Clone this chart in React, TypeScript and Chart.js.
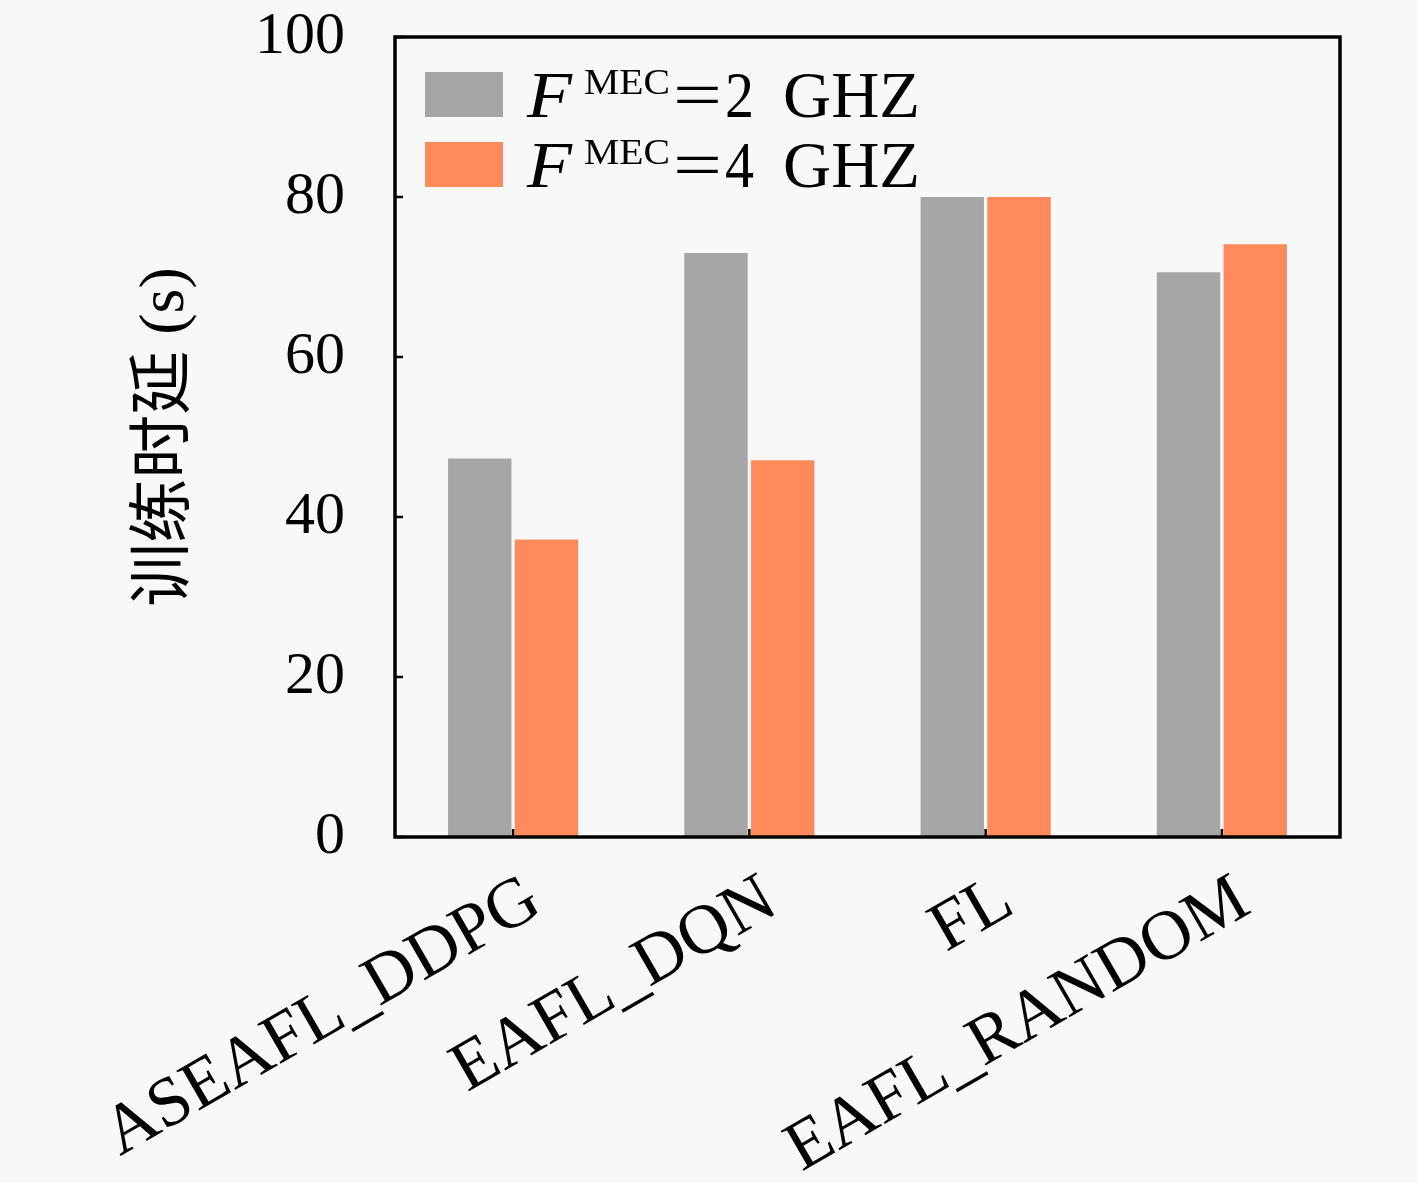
import React, { useEffect, useRef } from "react";
import { Chart, registerables } from "chart.js";

Chart.register(...registerables);

const categories = ["ASEAFL_DDPG", "EAFL_DQN", "FL", "EAFL_RANDOM"];
const series2GHz = [47.3, 73.0, 80.0, 70.6];
const series4GHz = [37.2, 47.1, 80.0, 74.1];
const seriesValueText = ["2", "4"];
const seriesUnit = "GHZ";
const yTickStep = 20;
const yMin = 0;
const yMax = 100;
const yTitle = "训练时延 (s)";

const GRAY = "#a6a6a6";
const ORANGE = "#ff8a5b";
const BG = "#f8f8f8";
const SERIF = "'Liberation Serif', 'Noto Sans CJK SC', serif";

function drawFit(ctx: CanvasRenderingContext2D, text: string, x0: number, x1: number, y: number) {
  const w = ctx.measureText(text).width;
  const s = (x1 - x0) / w;
  ctx.save();
  ctx.translate(x0, y);
  ctx.scale(s, 1);
  ctx.fillText(text, 0, 0);
  ctx.restore();
}

const framePlugin = {
  id: "frame",
  beforeDraw(chart: any) {
    const ctx = chart.ctx;
    ctx.save();
    ctx.fillStyle = BG;
    ctx.fillRect(0, 0, chart.width, chart.height);
    ctx.restore();
  },
  afterDraw(chart: any) {
    const ctx: CanvasRenderingContext2D = chart.ctx;
    const { left, right, top, bottom } = chart.chartArea;
    ctx.save();
    ctx.strokeStyle = "#000";
    ctx.lineWidth = 3.5;
    ctx.strokeRect(left, top, right - left, bottom - top);
    // inward ticks
    ctx.lineWidth = 2.5;
    const ys = chart.scales.y;
    ys.ticks.forEach((t: any) => {
      const py = ys.getPixelForValue(t.value);
      ctx.beginPath();
      ctx.moveTo(left, py);
      ctx.lineTo(left + 8, py);
      ctx.stroke();
    });
    const xs = chart.scales.x;
    categories.forEach((_, i) => {
      const px = xs.getPixelForValue(i);
      ctx.beginPath();
      ctx.moveTo(px, bottom);
      ctx.lineTo(px, bottom - 8);
      ctx.stroke();
    });

    // legend
    const colors = [GRAY, ORANGE];
    const rowTops = [72, 142];
    rowTops.forEach((ty, i) => {
      ctx.fillStyle = colors[i];
      ctx.fillRect(425, ty, 78, 45);
      const base = ty + 45;
      ctx.fillStyle = "#000";
      ctx.textBaseline = "alphabetic";
      ctx.textAlign = "left";
      ctx.font = `italic 66px ${SERIF}`;
      drawFit(ctx, "F", 527, 572, base);
      ctx.font = `36px ${SERIF}`;
      drawFit(ctx, "MEC", 584, 670, base - 23);
      ctx.font = `66px ${SERIF}`;
      drawFit(ctx, "=", 673, 722, base);
      drawFit(ctx, seriesValueText[i], 725, 754, base);
      drawFit(ctx, seriesUnit, 783, 920, base);
    });
    ctx.restore();
  },
};

export default function App() {
  const ref = useRef<HTMLCanvasElement>(null);
  useEffect(() => {
    document.body.style.margin = "0";
    document.body.style.background = BG;
    const chart = new Chart(ref.current!, {
      type: "bar",
      data: {
        labels: categories,
        datasets: [
          {
            label: "F MEC=2 GHZ",
            data: series2GHz,
            backgroundColor: GRAY,
            borderWidth: 0,
            categoryPercentage: 0.565,
            barPercentage: 0.95,
          },
          {
            label: "F MEC=4 GHZ",
            data: series4GHz,
            backgroundColor: ORANGE,
            borderWidth: 0,
            categoryPercentage: 0.565,
            barPercentage: 0.95,
          },
        ],
      },
      options: {
        animation: false,
        responsive: false,
        devicePixelRatio: 1,
        layout: { padding: { top: 37, right: 77, left: 0, bottom: 0 } },
        plugins: {
          legend: { display: false },
          tooltip: { enabled: false },
        },
        scales: {
          x: {
            grid: { display: false, drawTicks: false },
            border: { display: false },
            ticks: {
              color: "#000",
              font: { family: SERIF, size: 70 },
              minRotation: 30,
              maxRotation: 30,
              padding: 22,
              labelOffset: 22,
              autoSkip: false,
            },
            afterFit: (s: any) => {
              s.height = 346;
              s.paddingLeft = 0;
              s.paddingRight = 0;
            },
          },
          y: {
            min: yMin,
            max: yMax,
            grid: { display: false, drawTicks: false },
            border: { display: false },
            ticks: {
              stepSize: yTickStep,
              color: "#000",
              font: { family: SERIF, size: 60 },
              padding: 50,
            },
            title: {
              display: true,
              text: yTitle,
              color: "#000",
              font: { family: SERIF, size: 64 },
              padding: { top: 128, bottom: 0 },
            },
            afterFit: (s: any) => {
              s.width = 395;
              s.paddingTop = 0;
              s.paddingBottom = 0;
            },
          },
        },
      },
      plugins: [framePlugin],
    });
    return () => chart.destroy();
  }, []);
  return (
    <div style={{ position: "absolute", left: 0, top: 0, width: 1417, height: 1183, background: BG }}>
      <canvas ref={ref} width={1417} height={1183} style={{ display: "block" }} />
    </div>
  );
}
